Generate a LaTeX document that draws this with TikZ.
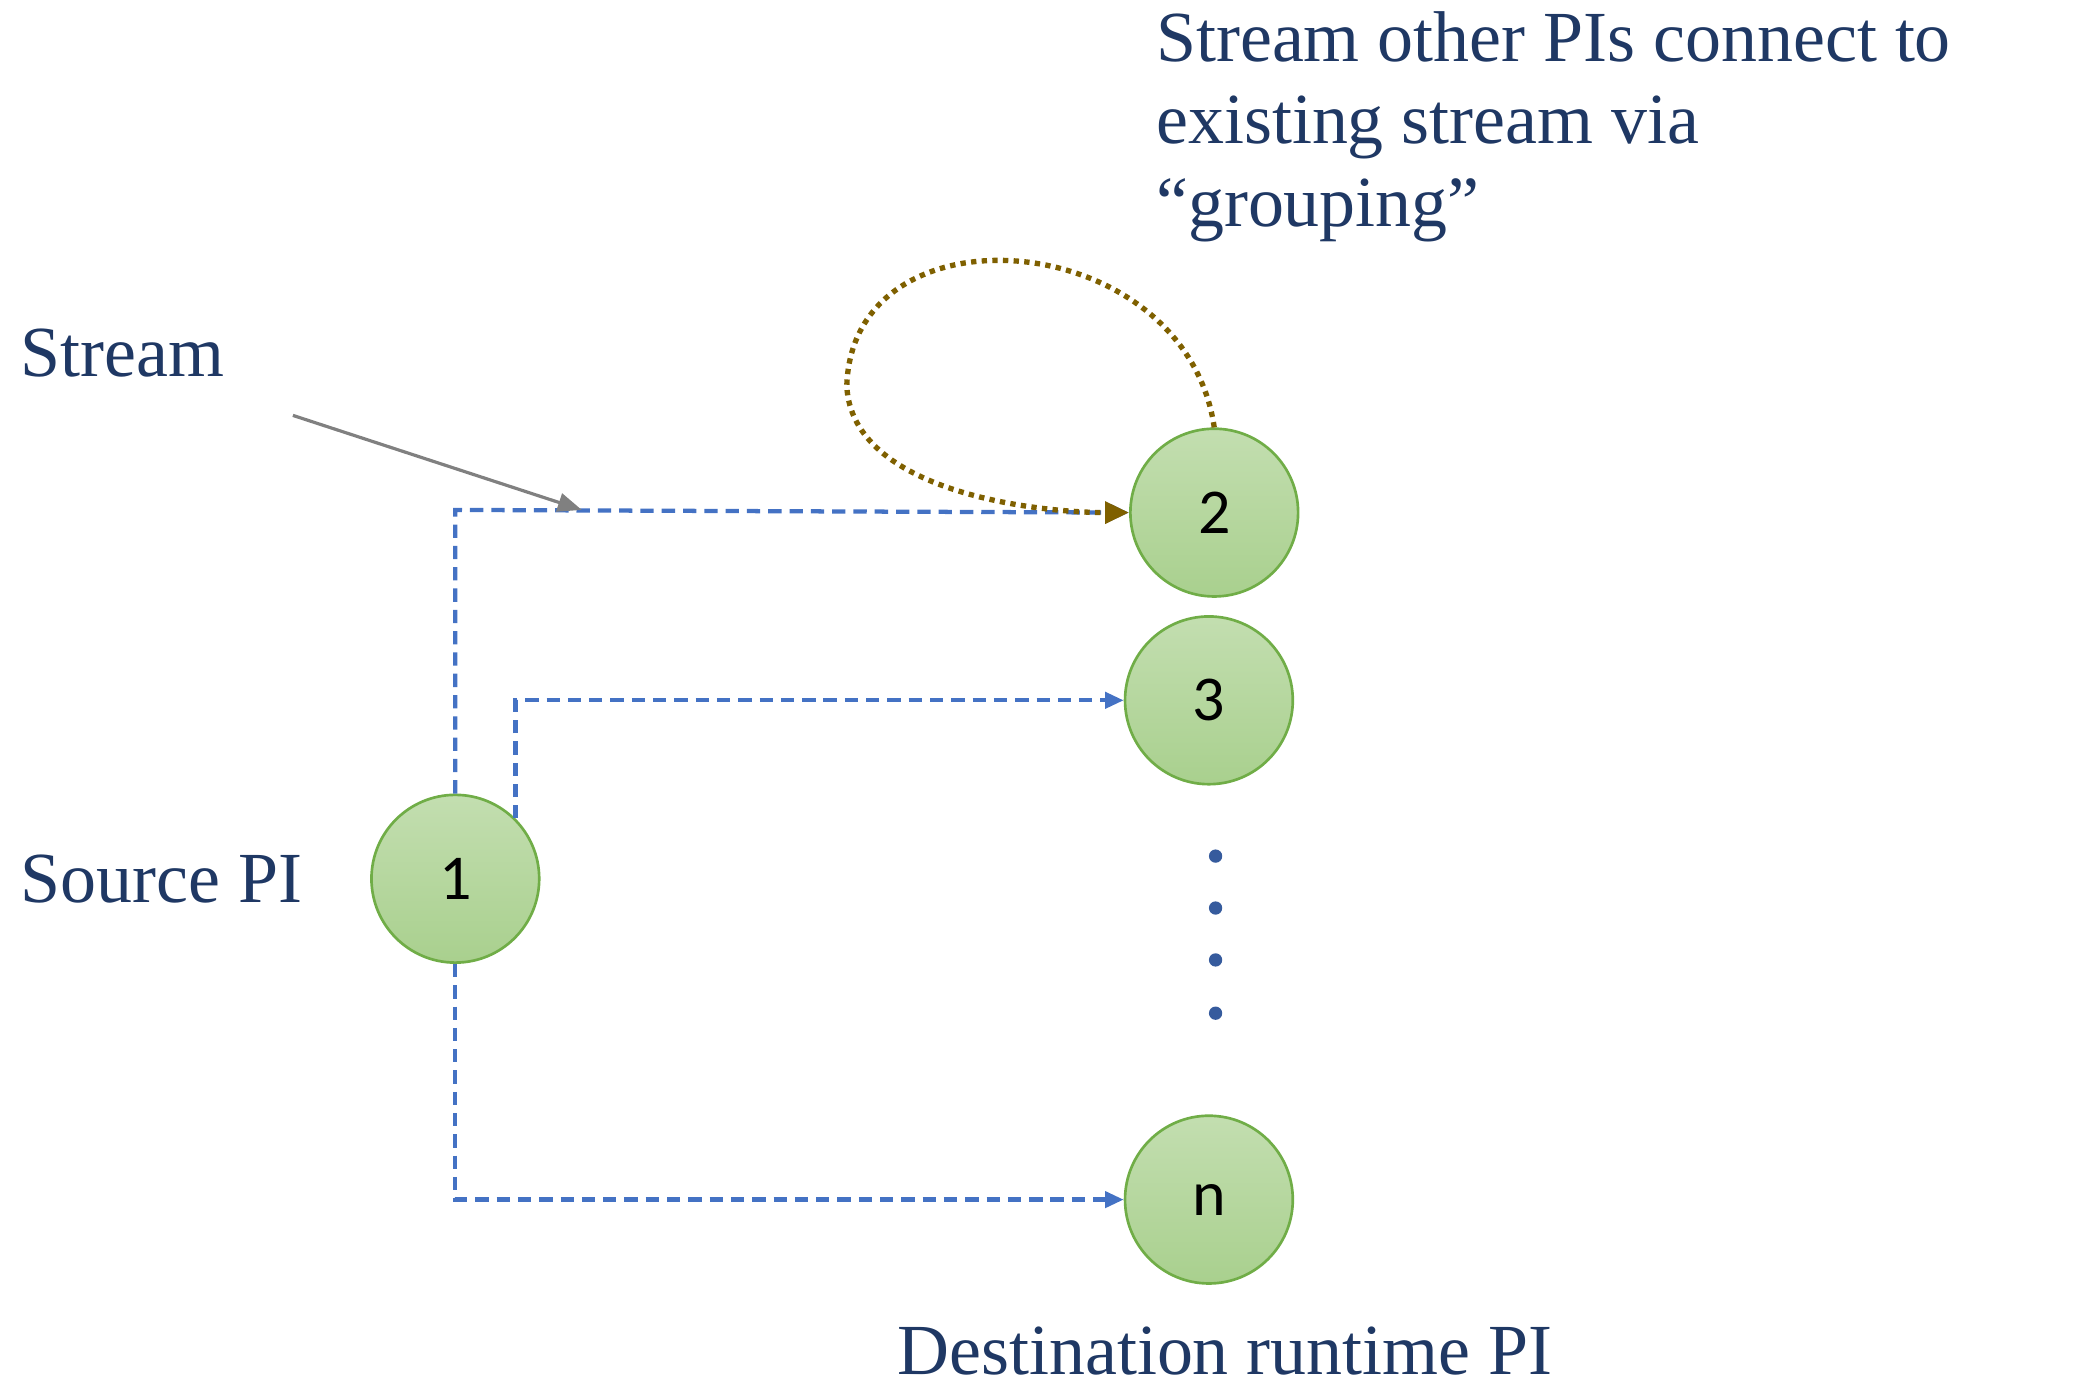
\documentclass[tikz,border=0pt]{standalone}
\usepackage{fontspec}
\setmainfont{Liberation Serif}
\newfontfamily\numfont{Carlito}
\usetikzlibrary{arrows.meta}
\definecolor{navy}{RGB}{31,56,100}
\definecolor{pblue}{RGB}{68,114,196}
\definecolor{gfill}{RGB}{169,208,142}
\definecolor{gedge}{RGB}{112,173,71}
\definecolor{brown}{RGB}{127,96,0}
\begin{document}
\begin{tikzpicture}[x=0.5pt,y=-0.5pt,
  pi/.style={circle,draw=gedge,line width=1pt,top color=gfill!70!white,bottom color=gfill,minimum size=63pt,inner sep=0pt,font=\numfont\fontsize{24}{24}\selectfont},
  lab/.style={text=navy,font=\fontsize{27}{31}\selectfont,inner sep=0pt},
  str/.style={pblue,dashed,line width=1.6pt,dash pattern=on 5pt off 3pt,-{Triangle[length=7pt,width=6pt]}},
  dot/.style={circle,fill=pblue!80!black,inner sep=0pt,minimum size=5pt}]
\useasboundingbox (0,0) rectangle (1560,1044);
\node[pi] (n1) at (342,660) {1};
\node[pi] (n2) at (912,385) {2};
\node[pi] (n3) at (908,526) {3};
\node[pi] (nn) at (908,901) {n};
\foreach \y/\k in {643/a,682/b,721/c,761/d} \node[dot] (d\k) at (913,\y) {};
\coordinate (c1) at (342,383);
\coordinate (c2) at (386,526);
\coordinate (c3) at (342,901);
\draw[str] (n1.north) -- (c1) -- (n2.west);
\draw[str] (n1.45) -- (n1.45 |- c2) -- (n3.west);
\draw[str] (n1.south) -- (c3) -- (nn.west);
\node[lab,anchor=west] (ts) at (15,265) {Stream};
\node[lab,anchor=west] (tsrc) at (15,660) {Source PI};
\node[lab] (tdst) at (920,1015) {Destination runtime PI};
\node[lab,anchor=north west,align=left] (ttop) at (868,8) {Stream other PIs connect to\\existing stream via\\“grouping”};
\coordinate (g1) at (220,312);
\coordinate (g2) at (437,383);
\draw[gray,line width=1.2pt,-{Triangle[length=9pt,width=7pt]}] (g1) -- (g2);
\draw[brown,line width=2pt,dotted,-{Triangle[length=9pt,width=8pt]}]
  (n2.north) .. controls (890,170) and (640,150) .. (636,290)
  .. controls (640,370) and (780,385) .. (n2.west);
\end{tikzpicture}
\end{document}
